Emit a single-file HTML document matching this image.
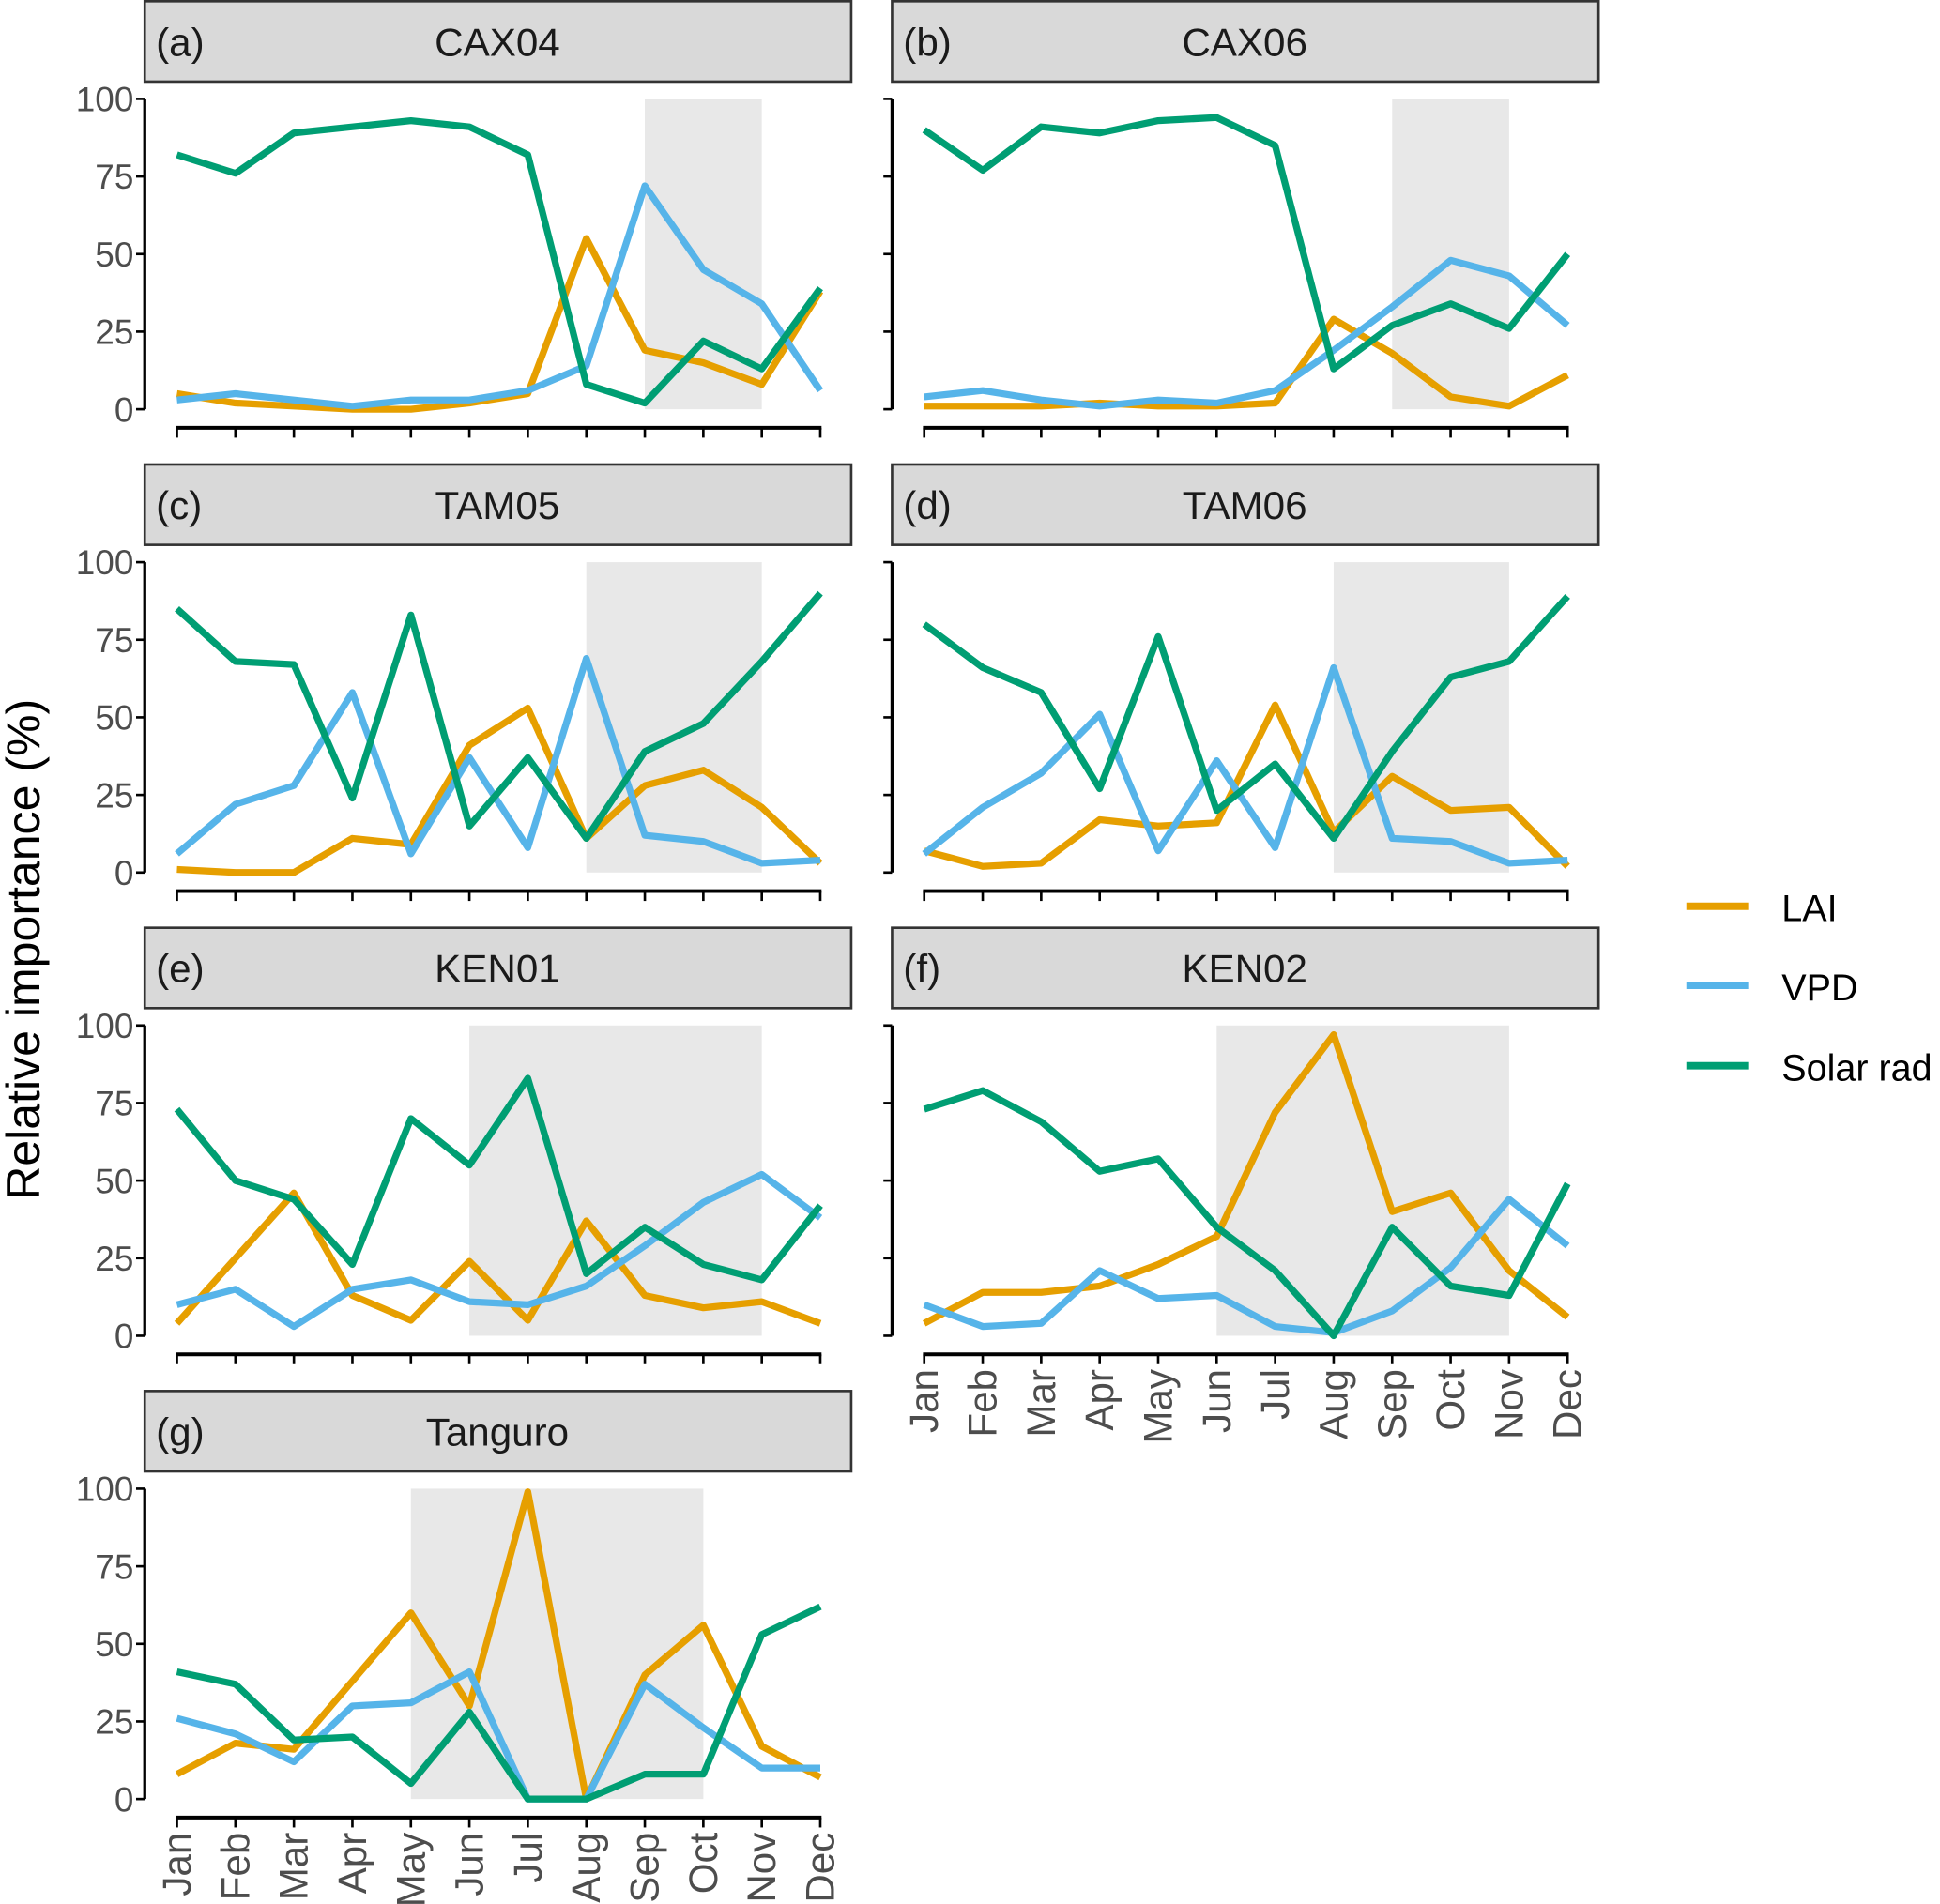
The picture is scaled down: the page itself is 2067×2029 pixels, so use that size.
<!DOCTYPE html>
<html><head><meta charset="utf-8"><style>
html,body{margin:0;padding:0;background:#fff}
svg{display:block}
text{font-family:"Liberation Sans",sans-serif}
</style></head><body>
<svg id="chart" width="2067" height="2029" viewBox="0 0 1568 1540" preserveAspectRatio="none" xmlns="http://www.w3.org/2000/svg">
<text transform="translate(32,768) rotate(-90)" text-anchor="middle" font-size="38" fill="#000">Relative importance (%)</text>
<g>
<line x1="1363" y1="733" x2="1413" y2="733" stroke="#E69F00" stroke-width="6"/>
<text x="1440" y="745" font-size="30">LAI</text>
<line x1="1363" y1="797" x2="1413" y2="797" stroke="#56B4E9" stroke-width="6"/>
<text x="1440" y="809" font-size="30">VPD</text>
<line x1="1363" y1="862" x2="1413" y2="862" stroke="#009E73" stroke-width="6"/>
<text x="1440" y="874" font-size="30">Solar rad</text>
</g>
</svg>
<script>
const months = ["Jan","Feb","Mar","Apr","May","Jun","Jul","Aug","Sep","Oct","Nov","Dec"];
const yTicks = [0,25,50,75,100];
const panelLetters = ["(a)","(b)","(c)","(d)","(e)","(f)","(g)"];
const panelSites = ["CAX04","CAX06","TAM05","TAM06","KEN01","KEN02","Tanguro"];
const shadeStart = [8,8,7,7,5,5,4];
const shadeEnd = [10,10,10,10,10,10,9];
const solarA = [82,76,89,91,93,91,82,8,2,22,13,39];
const laiA = [5,2,1,0,0,2,5,55,19,15,8,38];
const vpdA = [3,5,3,1,3,3,6,14,72,45,34,6];
const solarB = [90,77,91,89,93,94,85,13,27,34,26,50];
const laiB = [1,1,1,2,1,1,2,29,18,4,1,11];
const vpdB = [4,6,3,1,3,2,6,19,33,48,43,27];
const solarC = [85,68,67,24,83,15,37,11,39,48,68,90];
const laiC = [1,0,0,11,9,41,53,11,28,33,21,3];
const vpdC = [6,22,28,58,6,37,8,69,12,10,3,4];
const solarD = [80,66,58,27,76,20,35,11,39,63,68,89];
const laiD = [7,2,3,17,15,16,54,13,31,20,21,2];
const vpdD = [6,21,32,51,7,36,8,66,11,10,3,4];
const solarE = [73,50,44,23,70,55,83,20,35,23,18,42];
const laiE = [4,25,46,13,5,24,5,37,13,9,11,4];
const vpdE = [10,15,3,15,18,11,10,16,29,43,52,38];
const solarF = [73,79,69,53,57,35,21,0,35,16,13,49];
const laiF = [4,14,14,16,23,32,72,97,40,46,21,6];
const vpdF = [10,3,4,21,12,13,3,1,8,22,44,29];
const solarG = [41,37,19,20,5,28,0,0,8,8,53,62];
const laiG = [8,18,16,38,60,30,99,0,40,56,17,7];
const vpdG = [26,21,12,30,31,41,0,0,37,23,10,10];

const panelData = [[laiA,vpdA,solarA],[laiB,vpdB,solarB],[laiC,vpdC,solarC],[laiD,vpdD,solarD],[laiE,vpdE,solarE],[laiF,vpdF,solarF],[laiG,vpdG,solarG]];
const seriesNames = ["lai","vpd","solar"];
const seriesColors = ["#E69F00","#56B4E9","#009E73"];
const NS = "http://www.w3.org/2000/svg";
const svg = document.getElementById("chart");
function mk(tag, attrs, parent){const e=document.createElementNS(NS,tag);for(const k in attrs)e.setAttribute(k,attrs[k]);parent.appendChild(e);return e;}

for(let p=0;p<7;p++){
  const col=p%2,row=Math.floor(p/2);
  const ox=col*604, oy=row*374.7;
  const axisX=117+ox, x0=143+ox, x1=663+ox;
  const yTop=80+oy, yBot=331+oy;
  const xs=i=>x0+(x1-x0)*i/11;
  const ys=v=>yBot-(yBot-yTop)*v/100;
  const g=mk("g",{},svg);
  
  
  const strip=mk("rect",{x:117+ox,y:1+oy,width:571,height:65,fill:"#d9d9d9",stroke:"#333","stroke-width":2},g);
  
  
  const lt=mk("text",{x:126+ox,y:45+oy,"font-size":32,fill:"#1a1a1a"},g);lt.textContent=panelLetters[p];
  
  
  const st=mk("text",{x:402+ox,y:45+oy,"font-size":32,"text-anchor":"middle",fill:"#1a1a1a"},g);st.textContent=panelSites[p];
  
  
  const sh=mk("rect",{x:xs(shadeStart[p]),y:yTop,width:xs(shadeEnd[p])-xs(shadeStart[p]),height:yBot-yTop,fill:"#e8e8e8"},g);
  
  
  const ya=mk("line",{x1:axisX,y1:ys(100),x2:axisX,y2:ys(0),stroke:"#000","stroke-width":2.5},g);
  
  
  yTicks.forEach(t=>{
    const tk=mk("line",{x1:axisX-7,y1:ys(t),x2:axisX,y2:ys(t),stroke:"#000","stroke-width":2},g);
    
    
    if(col===0){
      const tl=mk("text",{x:axisX-9,y:ys(t)+10,"font-size":28,"text-anchor":"end",fill:"#4d4d4d"},g);tl.textContent=t;
      
      
    }
  });
  const axY=yBot+15;
  const xa=mk("line",{x1:x0-1,y1:axY,x2:x1+1,y2:axY,stroke:"#000","stroke-width":3},g);
  
  
  months.forEach((m,i)=>{
    const tk=mk("line",{x1:xs(i),y1:axY,x2:xs(i),y2:axY+8,stroke:"#000","stroke-width":2},g);
    
    
    if(p>=5){
      const ml=mk("text",{transform:`translate(${xs(i)+11},${axY+12}) rotate(-90)`,"font-size":32,"text-anchor":"end",fill:"#4d4d4d"},g);ml.textContent=m;
      
      
    }
  });
  [0,1,2].forEach(s=>{
    const vals=panelData[p][s];
    const pts=vals.map((v,i)=>xs(i).toFixed(1)+","+ys(v).toFixed(1)).join(" ");
    const pl=mk("polyline",{points:pts,fill:"none",stroke:seriesColors[s],"stroke-width":5.5,"stroke-linejoin":"round"},g);
    
    
  });
}
</script>
</body></html>
